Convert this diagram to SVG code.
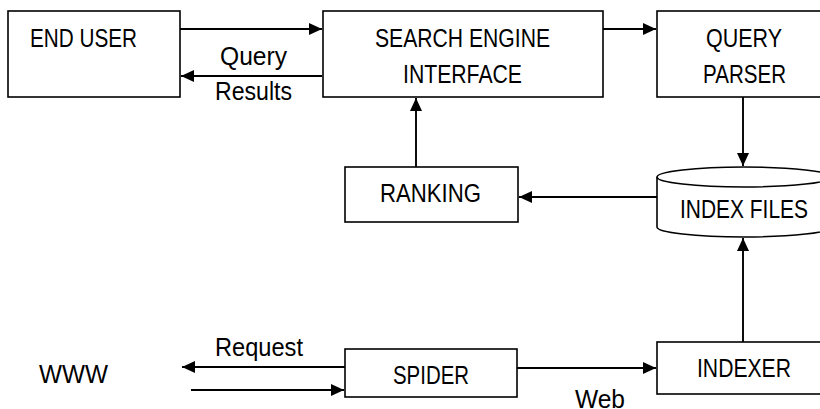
<svg xmlns="http://www.w3.org/2000/svg" width="820" height="409" viewBox="0 0 820 409">
<style>
.box{fill:#fff;stroke:#000;stroke-width:1.6}
.ln{fill:none;stroke:#000;stroke-width:1.9}
text{font-family:"Liberation Sans",Arial,sans-serif;font-size:25px;fill:#000}
</style>
<defs>
<marker id="ah" markerUnits="userSpaceOnUse" markerWidth="14" markerHeight="14" viewBox="0 0 14 14" refX="13" refY="7" orient="auto">
<path d="M0,1 L13,7 L0,13 Z" fill="#000"/>
</marker>
</defs>
<rect width="820" height="409" fill="#fff"/>
<g id="connectors">
<line class="ln" x1="180" y1="29" x2="322" y2="29" marker-end="url(#ah)"/>
<line class="ln" x1="322" y1="76" x2="181" y2="76" marker-end="url(#ah)"/>
<line class="ln" x1="603" y1="29" x2="656" y2="29" marker-end="url(#ah)"/>
<line class="ln" x1="743" y1="97" x2="743" y2="166" marker-end="url(#ah)"/>
<line class="ln" x1="657" y1="197" x2="519" y2="197" marker-end="url(#ah)"/>
<line class="ln" x1="416" y1="167" x2="416" y2="98" marker-end="url(#ah)"/>
<line class="ln" x1="743" y1="342" x2="743" y2="238" marker-end="url(#ah)"/>
<line class="ln" x1="345" y1="367" x2="182" y2="367" marker-end="url(#ah)"/>
<line class="ln" x1="191" y1="390" x2="344" y2="390" marker-end="url(#ah)"/>
<line class="ln" x1="517" y1="368" x2="656" y2="368" marker-end="url(#ah)"/>
<text x="220" y="65" textLength="67" lengthAdjust="spacingAndGlyphs">Query</text>
<text x="215" y="100" textLength="77" lengthAdjust="spacingAndGlyphs">Results</text>
<text x="215" y="356" textLength="88" lengthAdjust="spacingAndGlyphs">Request</text>
<text x="575" y="408" textLength="50" lengthAdjust="spacingAndGlyphs">Web</text>
</g>
<g id="end-user">
<rect class="box" x="8" y="11" width="172" height="86"/>
<text x="30" y="47" textLength="107" lengthAdjust="spacingAndGlyphs">END USER</text>
</g>
<g id="search-engine-interface">
<rect class="box" x="323" y="11" width="280" height="86"/>
<text x="375" y="47" textLength="175" lengthAdjust="spacingAndGlyphs">SEARCH ENGINE</text>
<text x="403" y="83" textLength="119" lengthAdjust="spacingAndGlyphs">INTERFACE</text>
</g>
<g id="query-parser">
<rect class="box" x="657" y="11" width="174" height="86"/>
<text x="706" y="47" textLength="76" lengthAdjust="spacingAndGlyphs">QUERY</text>
<text x="703" y="83" textLength="83" lengthAdjust="spacingAndGlyphs">PARSER</text>
</g>
<g id="ranking">
<rect class="box" x="345" y="167" width="173" height="55"/>
<text x="380" y="202" textLength="101" lengthAdjust="spacingAndGlyphs">RANKING</text>
</g>
<g id="index-files">
<path class="box" d="M657,177 V227 A87,10 0 0,0 831,227 V177"/>
<ellipse class="box" cx="744" cy="177" rx="87" ry="10"/>
<text x="680" y="218" textLength="128" lengthAdjust="spacingAndGlyphs">INDEX FILES</text>
</g>
<g id="www">
<text x="39" y="383" textLength="69" lengthAdjust="spacingAndGlyphs">WWW</text>
</g>
<g id="spider">
<rect class="box" x="345" y="349" width="172" height="48"/>
<text x="393" y="384" textLength="76" lengthAdjust="spacingAndGlyphs">SPIDER</text>
</g>
<g id="indexer">
<rect class="box" x="657" y="342" width="174" height="52"/>
<text x="697" y="377" textLength="94" lengthAdjust="spacingAndGlyphs">INDEXER</text>
</g>
</svg>
